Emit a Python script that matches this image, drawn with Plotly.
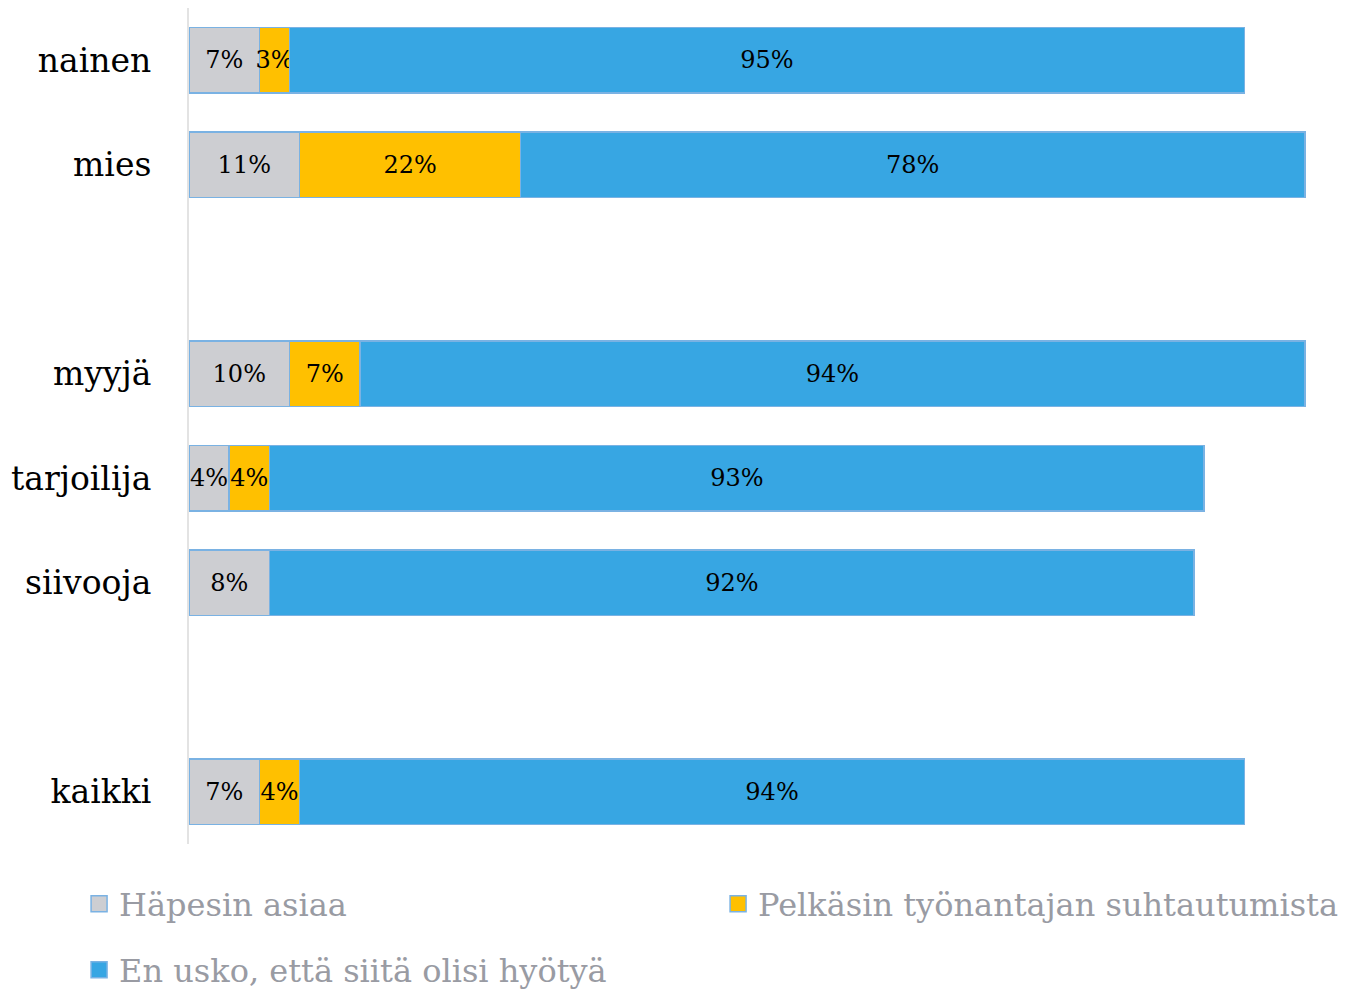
import plotly.graph_objects as go

categories = ["nainen", "mies", "myyjä", "tarjoilija", "siivooja", "kaikki"]
row_pos = [0, 1, 3, 4, 5, 7]
series_names = ["Häpesin asiaa", "Pelkäsin työnantajan suhtautumista", "En usko, että siitä olisi hyötyä"]
hapesin = [7, 11, 10, 4, 8, 7]
pelkasin = [3, 22, 7, 4, None, 4]
en_usko = [95, 78, 94, 93, 92, 94]
colors = ["#CDCED2", "#FFC000", "#37A6E3"]
legend_ids = ["legend", "legend", "legend2"]

FONT = "DejaVu Serif, serif"
EDGE = "#7AB2E3"

fig = go.Figure()
for name, vals, col in zip(series_names, [hapesin, pelkasin, en_usko], colors):
    fig.add_trace(go.Bar(
        y=row_pos, x=vals, name=name, orientation="h", showlegend=False,
        marker=dict(color=col, line=dict(color=EDGE, width=1.5)),
        text=[f"{v}%" if v is not None else "" for v in vals],
        textposition="inside", insidetextanchor="middle", constraintext="none",
        textangle=0,
        textfont=dict(family=FONT, size=24, color="black"),
        cliponaxis=False,
    ))
# legend entries
for name, col, lg in zip(series_names, colors, legend_ids):
    fig.add_trace(go.Scatter(
        x=[None], y=[None], mode="markers", name=name, legend=lg,
        marker=dict(symbol="square", size=16, color=col, line=dict(color=EDGE, width=1.5)),
    ))

W, H = 1343, 981
L, T, B = 181, 0, 145
fig.update_layout(
    barmode="stack",
    bargap=0.37,
    width=W, height=H,
    margin=dict(l=L, r=0, t=T, b=B, autoexpand=False),
    plot_bgcolor="white", paper_bgcolor="white",
    font=dict(family=FONT),
    xaxis=dict(range=[0, 115.6], showgrid=False, showticklabels=False, zeroline=False,
               showline=False, fixedrange=True),
    yaxis=dict(range=[7.5, -0.5], tickvals=row_pos, ticktext=categories,
               showgrid=False, zeroline=False, showline=True, linecolor="#E3E3E3", linewidth=2,
               ticks="", ticklabelstandoff=29,
               tickfont=dict(family=FONT, size=33, color="black")),
    legend=dict(orientation="h", x=-0.0946, xanchor="left", y=-0.0718, yanchor="middle",
                entrywidth=594, traceorder="normal",
                font=dict(family=FONT, size=32, color="#999BA3"),
                itemwidth=30, bgcolor="rgba(0,0,0,0)"),
    legend2=dict(orientation="h", x=-0.0946, xanchor="left", y=-0.1507, yanchor="middle",
                 font=dict(family=FONT, size=32, color="#999BA3"),
                 itemwidth=30, bgcolor="rgba(0,0,0,0)"),
    showlegend=True,
)

fig.write_html("out.html")
